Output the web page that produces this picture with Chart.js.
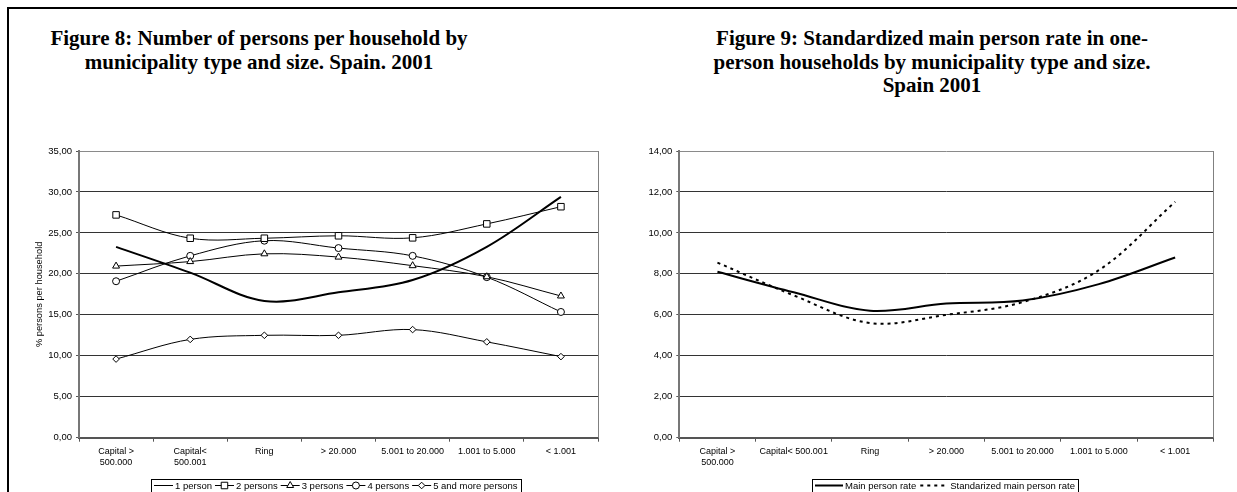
<!DOCTYPE html>
<html>
<head>
<meta charset="utf-8">
<script src="https://cdn.jsdelivr.net/npm/chart.js@4.4.1/dist/chart.umd.min.js"></script>
<style>
  html, body { margin: 0; padding: 0; background: #fff; }
  body { width: 1237px; height: 492px; position: relative; overflow: hidden; }
  #frame { position: absolute; left: 7px; top: 7px; width: 1260px; height: 520px;
           border-left: 2px solid #000; border-top: 2px solid #000; }
  .title { position: absolute; font-family: "Liberation Serif", "Times New Roman", serif;
           font-weight: bold; font-size: 21px; line-height: 23.5px; white-space: nowrap;
           transform: translateX(-50%); color: #000; }
  canvas { position: absolute; }
</style>
</head>
<body>
<div id="frame"></div>

<div class="title" style="left:259px; top:27px">Figure 8: Number of persons per household by</div>
<div class="title" style="left:259px; top:50.5px">municipality type and size. Spain. 2001</div>

<div class="title" style="left:932px; top:27px">Figure 9: Standardized main person rate in one-</div>
<div class="title" style="left:932px; top:50.5px">person households by municipality type and size.</div>
<div class="title" style="left:932px; top:74px">Spain 2001</div>

<canvas id="fig8" width="600" height="352" style="left:10px; top:140px"></canvas>
<canvas id="fig9" width="617" height="352" style="left:620px; top:140px"></canvas>

<script>
// Municipality categories
const categoriesFig8 = [["Capital >", "500.000"], ["Capital<", "500.001"], "Ring", "> 20.000",
                        "5.001 to 20.000", "1.001 to 5.000", "< 1.001"];
const categoriesFig9 = [["Capital >", "500.000"], "Capital< 500.001", "Ring", "> 20.000",
                        "5.001 to 20.000", "1.001 to 5.000", "< 1.001"];

// Figure 8: % of households by number of persons
const onePerson    = [23.3, 20.15, 16.7, 17.75, 19.25, 23.3, 29.4];
const twoPersons   = [27.2, 24.35, 24.35, 24.65, 24.4, 26.1, 28.2];
const threePersons = [20.95, 21.5, 22.45, 22.05, 21.0, 19.65, 17.3];
const fourPersons  = [19.1, 22.2, 24.05, 23.15, 22.2, 19.6, 15.35];
const fivePlus     = [9.6, 12.0, 12.5, 12.5, 13.2, 11.7, 9.9];

// Figure 9: main person rate in one-person households
const mainRate         = [8.1, 7.1, 6.2, 6.55, 6.7, 7.5, 8.8];
const standardizedRate = [8.55, 6.95, 5.6, 6.0, 6.62, 8.18, 11.52];

// Y axis ranges
const fig8Axis = { min: 0, max: 35, step: 5 };
const fig9Axis = { min: 0, max: 14, step: 2 };

const SANS = '"Liberation Sans", Arial, sans-serif';

// Right-hand edge of the plot area (Excel-style frame)
const plotFrame = {
  id: 'plotFrame',
  afterDatasetsDraw(chart, args, opts) {
    const { ctx, chartArea: a } = chart;
    ctx.save();
    ctx.strokeStyle = opts.color || '#808080';
    ctx.lineWidth = 1;
    const x = Math.round(a.right) + 0.5;
    ctx.beginPath();
    ctx.moveTo(x, a.top);
    ctx.lineTo(x, a.bottom);
    ctx.stroke();
    ctx.restore();
  }
};

// Boxed legend with line + marker samples, drawn under the axis labels
const boxedLegend = {
  id: 'boxedLegend',
  afterDraw(chart, args, o) {
    const ctx = chart.ctx;
    const ds = chart.data.datasets;
    ctx.save();
    ctx.font = o.font;
    const items = ds.map(d => ({ d, tw: ctx.measureText(d.label).width }));
    const total = items.reduce((s, it) => s + o.lineLen + o.textGap + it.tw, 0)
                + o.itemGap * (items.length - 1) + o.padX * 2;
    const a = chart.chartArea;
    const x0 = Math.round((a.left + a.right) / 2 + (o.shift || 0) - total / 2);
    const top = Math.round(a.bottom + o.offsetY);
    ctx.fillStyle = '#fff';
    ctx.fillRect(x0, top, total, o.height);
    ctx.strokeStyle = '#000';
    ctx.lineWidth = 1;
    ctx.strokeRect(x0 + 0.5, top + 0.5, Math.round(total), o.height);
    const cy = top + o.rowY;
    let cx = x0 + o.padX;
    items.forEach(({ d, tw }) => {
      ctx.strokeStyle = d.borderColor;
      ctx.lineWidth = o.sampleWidth || 1;
      ctx.setLineDash(d.borderDash || []);
      ctx.beginPath();
      ctx.moveTo(cx, cy + 0.5);
      ctx.lineTo(cx + o.lineLen, cy + 0.5);
      ctx.stroke();
      ctx.setLineDash([]);
      if (d.pointRadius > 0) {
        ctx.fillStyle = d.pointBackgroundColor;
        ctx.strokeStyle = d.pointBorderColor;
        Chart.helpers.drawPoint(ctx, {
          pointStyle: d.pointStyle, rotation: 0,
          radius: d.pointRadius, borderWidth: 1
        }, cx + o.lineLen / 2, cy + 0.5);
      }
      ctx.fillStyle = '#000';
      ctx.textBaseline = 'middle';
      ctx.textAlign = 'left';
      ctx.fillText(d.label, cx + o.lineLen + o.textGap, cy + 1);
      cx += o.lineLen + o.textGap + tw + o.itemGap;
    });
    ctx.restore();
  }
};

function commaTick(v) { return v.toFixed(2).replace('.', ','); }

function buildOptions(axis, yWidth, xHeight, padding, yTitle) {
  return {
    responsive: false,
    animation: false,
    devicePixelRatio: 1,
    layout: { padding },
    plugins: { legend: { display: false }, tooltip: { enabled: false } },
    scales: {
      x: {
        offset: true,
        grid: { display: true, offset: true, drawOnChartArea: false, drawTicks: true,
                tickLength: 4, color: '#555', lineWidth: 1 },
        border: { display: true, color: '#555', width: 2 },
        ticks: { color: '#000', font: { family: SANS, size: 9, lineHeight: 1.28 },
                 padding: 4, maxRotation: 0, autoSkip: false },
        afterFit(s) { s.height = xHeight; }
      },
      y: {
        min: axis.min, max: axis.max,
        grid: {
          drawTicks: true, tickLength: 3, tickColor: '#555', lineWidth: 1,
          color: c => (c.tick && c.tick.value === axis.max) ? '#8a8a8a' : '#333'
        },
        border: { display: true, color: '#777', width: 2 },
        ticks: { stepSize: axis.step, color: '#000', padding: 4,
                 font: { family: SANS, size: 9.5 }, callback: v => commaTick(v) },
        title: yTitle ? { display: true, text: yTitle, color: '#000',
                          font: { family: SANS, size: 9.3 }, padding: { top: 24, bottom: 0 } }
                      : { display: false },
        afterFit(s) { s.width = yWidth; }
      }
    }
  };
}

function markerSeries(label, data, style, radius) {
  return { label, data, borderColor: '#000', borderWidth: 1, tension: 0.35,
           pointStyle: style, pointRadius: radius, pointBackgroundColor: '#fff',
           pointBorderColor: '#000', pointBorderWidth: 1, fill: false };
}

// Figure 8
const fig8Options = buildOptions(fig8Axis, 69, 54.3, { left: 0, right: 12, top: 11, bottom: 0 },
                                 '% persons per household');
fig8Options.plugins.plotFrame = { color: '#808080' };
fig8Options.plugins.boxedLegend = { font: '9.5px ' + SANS, lineLen: 19, textGap: 2, itemGap: 3,
                                     padX: 3, offsetY: 41.5, height: 15, rowY: 6, sampleWidth: 1, shift: -3 };
new Chart(document.getElementById('fig8'), {
  type: 'line',
  data: {
    labels: categoriesFig8,
    datasets: [
      { label: '1 person', data: onePerson, borderColor: '#000', borderWidth: 2, tension: 0.35,
        pointRadius: 0, fill: false },
      markerSeries('2 persons', twoPersons, 'rect', 4.6),
      markerSeries('3 persons', threePersons, 'triangle', 4),
      markerSeries('4 persons', fourPersons, 'circle', 3.5),
      markerSeries('5 and more persons', fivePlus, 'rectRot', 3.3)
    ]
  },
  options: fig8Options,
  plugins: [plotFrame, boxedLegend]
});

// Figure 9
const fig9Options = buildOptions(fig9Axis, 59.3, 54.3, { left: 0, right: 23.7, top: 11, bottom: 0 }, null);
fig9Options.plugins.plotFrame = { color: '#808080' };
fig9Options.plugins.boxedLegend = { font: '9.5px ' + SANS, lineLen: 28, textGap: 2, itemGap: 4,
                                     padX: 3, offsetY: 41.5, height: 15, rowY: 6, sampleWidth: 2, shift: -1 };
new Chart(document.getElementById('fig9'), {
  type: 'line',
  data: {
    labels: categoriesFig9,
    datasets: [
      { label: 'Main person rate', data: mainRate, borderColor: '#000', borderWidth: 2,
        tension: 0.35, pointRadius: 0, fill: false },
      { label: 'Standarized main person rate', data: standardizedRate, borderColor: '#000',
        borderWidth: 2, borderDash: [3, 4], tension: 0.35, pointRadius: 0, fill: false }
    ]
  },
  options: fig9Options,
  plugins: [plotFrame, boxedLegend]
});
</script>
</body>
</html>
